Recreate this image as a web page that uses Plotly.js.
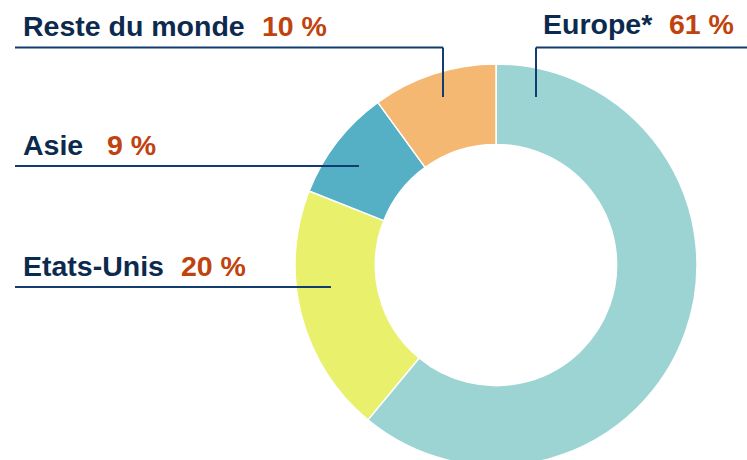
<!DOCTYPE html>
<html>
<head>
<meta charset="utf-8">
<script src="https://cdn.plot.ly/plotly-3.0.1.min.js"></script>
<style>
html,body{margin:0;padding:0;overflow:hidden;background:#fff;}
#chart{width:747px;height:530px;}
</style>
</head>
<body>
<div id="chart"></div>
<script>
const categories = ["Europe*", "Etats-Unis", "Asie", "Reste du monde"];
const shares = [61, 20, 9, 10];
const valueLabels = ["61 %", "20 %", "9 %", "10 %"];
const colors = ["#9cd4d4", "#e8f06c", "#55afc5", "#f4b872"];

const W = 747, H = 530;
const px = x => x / W;
const py = y => 1 - y / H;

const navy = "#0c2a4d";
const rust = "#c0420c";
const lineCol = "#123d6e";
const font = "Liberation Sans, Arial, sans-serif";
const fsize = 28.5;

// label placement (pixels): name left x, value left x, vertical centre y
const placement = {
  "Europe*":        {nx: 542, vx: 668, y: 24},
  "Etats-Unis":     {nx: 22,  vx: 180, y: 266},
  "Asie":           {nx: 22,  vx: 106, y: 145},
  "Reste du monde": {nx: 22,  vx: 261, y: 26}
};

const annotations = [];
categories.forEach((c, i) => {
  const p = placement[c];
  annotations.push({xref:"paper", yref:"paper", x:px(p.nx), y:py(p.y), xanchor:"left", yanchor:"middle",
    text:"<b>"+c+"</b>", showarrow:false, borderpad:0, font:{family:font, size:fsize, color:navy}});
  annotations.push({xref:"paper", yref:"paper", x:px(p.vx), y:py(p.y), xanchor:"left", yanchor:"middle",
    text:"<b>"+valueLabels[i]+"</b>", showarrow:false, borderpad:0, font:{family:font, size:fsize, color:rust}});
});

const seg = (x0,y0,x1,y1) => ({type:"line", xref:"paper", yref:"paper", x0:px(x0), y0:py(y0), x1:px(x1), y1:py(y1),
  line:{color:lineCol, width:2}});
const shapes = [
  seg(15, 47.5, 443, 47.5), seg(443, 47.5, 443, 97),
  seg(536, 47.5, 747, 47.5), seg(536, 47.5, 536, 97),
  seg(15, 166, 359, 166),
  seg(15, 287, 331, 287)
];

const trace = {
  type:"pie", labels:categories, values:shares, sort:false, direction:"clockwise", rotation:0,
  hole:0.6, textinfo:"none", hoverinfo:"none",
  marker:{colors:colors, line:{color:"#ffffff", width:1.5}},
  domain:{x:[295/W, 697/W], y:[0, 1]}
};

Plotly.newPlot("chart", [trace], {
  width:W, height:H, margin:{l:0,r:0,t:0,b:0}, showlegend:false,
  paper_bgcolor:"#fff", plot_bgcolor:"#fff",
  annotations:annotations, shapes:shapes
}, {displayModeBar:false, staticPlot:true});
</script>
</body>
</html>
